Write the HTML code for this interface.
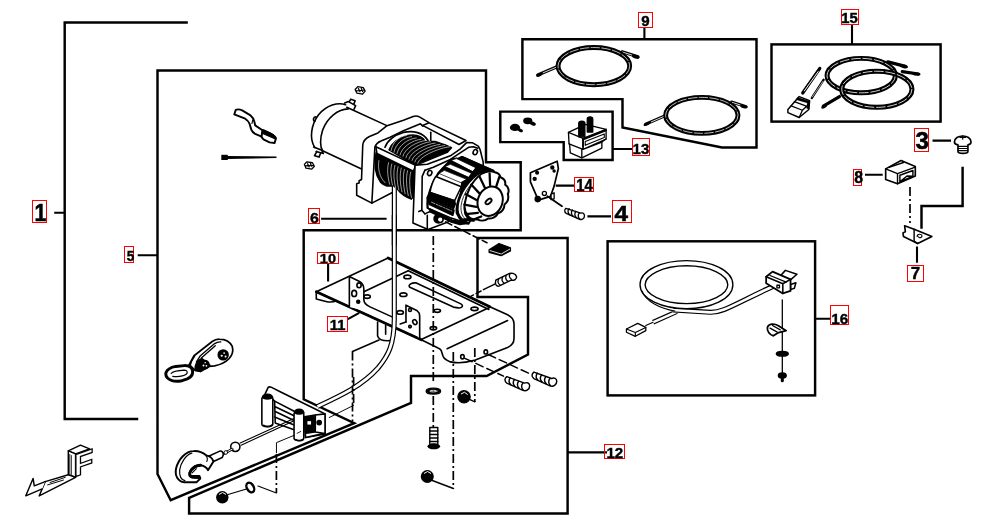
<!DOCTYPE html>
<html><head><meta charset="utf-8"><title>Winch parts diagram</title>
<style>
html,body{margin:0;padding:0;background:#fff}
svg{display:block}
.f{fill:none;stroke:#000;stroke-width:2.45;stroke-linejoin:miter;stroke-linecap:square}
.t{fill:none;stroke:#000;stroke-width:2.1;stroke-linecap:butt}
.l{fill:none;stroke:#000;stroke-linejoin:round;stroke-linecap:round}
.w{fill:#fff;stroke:#000;stroke-linejoin:round;stroke-linecap:round}
.k{fill:#000;stroke:#000;stroke-width:1;stroke-linejoin:round}
.d{fill:none;stroke:#000;stroke-width:1.7;stroke-dasharray:9 3 2 3}
.g{fill:none;stroke:#000;stroke-linejoin:round;stroke-linecap:round}
.rb{fill:none;stroke:#f00;stroke-width:1}
text{font-family:"Liberation Sans",sans-serif;font-weight:bold;fill:#000;text-anchor:middle}
.s{font-size:15px}
.b{font-size:23px}
</style></head>
<body>
<svg width="993" height="527" viewBox="0 0 993 527">
<rect width="993" height="527" fill="#fff"/>
<!-- FRAMES -->
<g id="frames">
<path class="f" d="M186.6,22.5H64.7V419H137"/>
<path class="f" d="M170.7,500.2L157.5,474V70.5H486V162.2H520.7V230.2H303.7V399.3L354.2,423.2Z"/>
<path class="f" d="M189.1,497.8L411,403V376H486.6L528,354.5V297H477.5V238H567.6V513.5H189.1Z"/>
<path class="f" d="M522.4,99.1V39.3H756.5V147.5H722L622.5,127.5V99.1Z"/>
<path class="f" d="M500.3,111.6H612.6V160H563.7V142.1H500.3Z"/>
<rect class="f" x="771.5" y="44.4" width="169.1" height="77.2"/>
<rect class="f" x="607.6" y="241.3" width="207.5" height="154.1"/>
<path class="f" d="M962.6,168V205.9H921.5V227.5"/>
</g>
<!-- LEADERS -->
<g id="leaders">
<path class="t" d="M54.2,212.8H64M137.7,255.3H157.5M644.4,27.6V39.2M852,24.3V44.4M612.7,149H632.2M555.7,185.6H574.1M587.4,216.4H611M932.5,140.6H951M865,174.8H882.7M917,246.4V262.8M815,318.8H830.5M567.5,452.4H607M328.1,264V281.5M347.9,319.2L359.2,312.8M321.1,218.8H386.6"/>
</g>
<!-- LABELS -->
<g id="labels">
<rect class="rb" x="32.5" y="200.5" width="14.0" height="22.0"/>
<rect class="rb" x="124.5" y="246.5" width="9.0" height="16.0"/>
<rect class="rb" x="308.5" y="208.5" width="11.0" height="15.0"/>
<rect class="rb" x="638.5" y="12.5" width="14.0" height="15.0"/>
<rect class="rb" x="841.5" y="9.5" width="17.0" height="15.0"/>
<rect class="rb" x="632.5" y="138.5" width="17.0" height="17.0"/>
<rect class="rb" x="574.5" y="177.5" width="19.0" height="14.0"/>
<rect class="rb" x="612.5" y="200.5" width="19.0" height="22.0"/>
<rect class="rb" x="914.5" y="128.5" width="14.0" height="23.0"/>
<rect class="rb" x="853.5" y="169.5" width="8.0" height="16.0"/>
<rect class="rb" x="907.5" y="265.5" width="16.0" height="16.0"/>
<rect class="rb" x="830.5" y="305.5" width="18.0" height="19.0"/>
<rect class="rb" x="604.5" y="444.5" width="20.0" height="14.0"/>
<rect class="rb" x="317.5" y="252.5" width="21.0" height="11.0"/>
<rect class="rb" x="327.5" y="316.5" width="20.0" height="15.0"/>
<g style="filter:grayscale(1)">
<text transform="translate(34.56,221.40) scale(0.904,1)" style="font-size:23.55px;text-anchor:start;stroke:#000;stroke-width:0.55px">1</text>
<text transform="translate(126.69,260.95) scale(0.880,1)" style="font-size:15.47px;text-anchor:start;stroke:#000;stroke-width:0.4px">5</text>
<text transform="translate(310.04,223.45) scale(1.060,1)" style="font-size:15.11px;text-anchor:start;stroke:#000;stroke-width:0.4px">6</text>
<text transform="translate(641.16,25.96) scale(1.060,1)" style="font-size:14.27px;text-anchor:start;stroke:#000;stroke-width:0.4px">9</text>
<text transform="translate(841.26,22.65) scale(0.980,1)" style="font-size:15.19px;text-anchor:start;stroke:#000;stroke-width:0.4px">15</text>
<text transform="translate(632.55,153.93) scale(0.985,1)" style="font-size:15.23px;text-anchor:start;stroke:#000;stroke-width:0.4px">13</text>
<text transform="translate(576.26,191.10) scale(0.946,1)" style="font-size:15.70px;text-anchor:start;stroke:#000;stroke-width:0.4px">14</text>
<text transform="translate(614.51,220.80) scale(1.060,1)" style="font-size:22.97px;text-anchor:start;stroke:#000;stroke-width:0.55px">4</text>
<text transform="translate(915.44,149.45) scale(1.050,1)" style="font-size:22.99px;text-anchor:start;stroke:#000;stroke-width:0.55px">3</text>
<text transform="translate(854.29,182.64) scale(1.000,1)" style="font-size:15.82px;text-anchor:start;stroke:#000;stroke-width:0.4px">8</text>
<text transform="translate(910.80,279.00) scale(1.060,1)" style="font-size:15.99px;text-anchor:start;stroke:#000;stroke-width:0.4px">7</text>
<text transform="translate(831.34,324.15) scale(1.012,1)" style="font-size:15.11px;text-anchor:start;stroke:#000;stroke-width:0.4px">16</text>
<text transform="translate(606.45,458.30) scale(0.983,1)" style="font-size:15.33px;text-anchor:start;stroke:#000;stroke-width:0.4px">12</text>
<text transform="translate(319.82,262.76) scale(1.060,1)" style="font-size:13.70px;text-anchor:start;stroke:#000;stroke-width:0.4px">10</text>
<text transform="translate(329.87,329.80) scale(0.970,1)" style="font-size:15.26px;text-anchor:start;stroke:#000;stroke-width:0.4px">11</text>
</g>
</g>

<!-- PARTS -->
<!-- WINCH -->
<g id="winch">
<!-- motor : 6.2x tile origin (300,85) -->
<g transform="translate(300,85) scale(0.16129)" stroke-width="10" class="g">
<path d="M283,122C235,105 165,125 115,185C70,245 55,330 92,388"/>
<path d="M300,148C235,150 170,200 140,280C122,335 125,385 140,408"/>
<path d="M290,138L545,255M140,408L395,527"/>
<path d="M277,112L300,103L345,128L335,150M305,105L315,88L342,97L333,120"/>
<path d="M85,385L135,405L145,425L100,412M105,412L90,438L118,447L128,422"/>
<path d="M100,198C82,195 78,222 92,225"/>
<g stroke-width="8"><path d="M342,28L358,10L392,16L404,38L388,56L352,50ZM362,22L372,42M380,22L388,40M350,36L395,32"/>
<path d="M27,492L43,476L77,482L89,504L73,522L37,516ZM47,488L57,508M65,488L73,506M35,502L80,498"/></g>
</g>
<!-- left mount : 8.233x tile A origin (350,105) -->
<g transform="translate(350,105) scale(0.12146)" stroke-width="13" class="g">
<path fill="#fff" stroke="none" d="M105,330C108,300 130,275 160,260L230,230L305,170L440,125L520,95C540,88 560,92 575,100L650,145L660,300L345,723L180,808L55,743L55,648L75,643L75,623L95,613Z"/>
<path d="M345,723L180,808L55,743L55,648L75,643L75,623L95,613L105,330C108,300 130,275 160,260L230,230L305,170L440,125L520,95C540,88 560,92 575,100L650,145"/>
<path d="M180,808L195,527L205,345C215,320 235,305 255,297L330,265L440,212L580,155L600,175"/>
<path d="M665,225V300"/>
<!-- drum upper -->
<path fill="#000" d="M322,368C342,315 400,270 465,253C530,240 590,252 618,298L700,300L790,332L835,352L800,390L540,497Z"/>
<path stroke-width="14" d="M288,348C308,292 370,245 440,226C520,208 602,225 642,292"/>
<path stroke="#fff" stroke-width="5" fill="none" d="M338,376C350,314 393,258 468,250M362,388C374,326 432,268 507,260M387,399C399,337 471,279 546,271M412,411C424,349 510,290 585,282M436,422C448,360 549,300 624,292M460,434C472,372 588,310 663,302M485,446C497,384 627,321 702,313M510,457C522,395 666,332 741,324M534,469C546,407 705,342 780,334M558,480C570,418 744,352 819,344"/>
<!-- drum lower (tile B = +452.8 in y) -->
<g transform="translate(0,452.8)">
<path fill="#000" d="M215,-60C200,20 200,110 250,180C280,210 320,218 345,212L390,240C420,280 470,310 505,322L522,300L522,60L290,-60Z"/>
<path stroke="#fff" stroke-width="5" fill="none" d="M238,5C228,70 240,140 290,188M318,22C302,82 312,140.0 326,200M344,33C328,93 338,155.5 352,216M370,44C354,104 362,171.0 376,231M396,55C380,115 388,186.5 402,246M422,66C406,126 414,202.0 428,262M448,77C432,137 440,217.5 454,278M474,88C458,148 466,233.0 480,293M500,99C484,159 492,248.5 506,308"/>
<!-- cable down -->
<path fill="#fff" stroke="none" d="M349,212V700H381V238"/>
<path stroke-width="10" d="M349,212V700M381,238V700"/>
</g>
<!-- front tie bar -->
<path fill="#fff" d="M213,343L540,497L522,545L222,400Z"/>
<!-- rear tie bar -->
<path fill="#fff" d="M597,168L652,147L955,292L898,325Z"/>
</g>

<!-- right mount + gear housing : tile C origin (420,140) 8.233x ; tile D = +288 in y -->
<g transform="translate(420,140) scale(0.12146)" stroke-width="13" class="g">
<path fill="#fff" d="M-36,207L60,200L250,130L330,75L385,20L430,22L480,50L495,80L520,180L525,400L230,675L66,737L-58,683L-41,214Z"/>
<path d="M40,250L110,225L250,160L340,100L400,60L440,55L475,68"/>
<path d="M40,250L18,300L15,578L40,608"/>
<ellipse cx="80" cy="272" rx="17" ry="22" transform="rotate(25 80 272)"/>
<ellipse cx="455" cy="100" rx="17" ry="22" transform="rotate(25 455 100)"/>
<!-- foot -->
<path d="M15,578L-10,588M40,608L105,578M60,620V728"/>
<!-- housing body white -->
<path fill="#fff" d="M180,240L255,160L320,150L345,138L600,250L640,300L400,690L250,640L60,560C50,480 90,340 180,240Z"/>
<!-- top dark rib -->
<path fill="#000" d="M318,152L347,138L605,250L640,300L600,290L560,268L330,170Z"/>
<!-- ribs -->
<path fill="#000" d="M255,160L300,150L490,238L470,275L440,275L250,195L205,212L400,300L380,330L350,350L200,247L160,268L135,300L150,270Z"/>
<path fill="#fff" stroke-width="6" d="M258,166L300,153L484,240L454,268Z"/>
<path fill="#fff" stroke-width="6" d="M208,218L250,200L438,280L404,306Z"/>
<path fill="#fff" stroke-width="6" d="M160,274L200,250L390,326L354,356Z"/>
<!-- white panel -->
<path fill="#fff" d="M130,300L340,385L285,500L82,432C90,385 105,340 130,300Z"/>
<!-- lower dark bands (tile D coords +288) -->
<path fill="#000" d="M82,432L285,500L290,528L275,565L60,475Z"/>
<path fill="#000" d="M66,488L280,578L270,620L75,530Z"/>
<path stroke="#fff" stroke-width="5" stroke-dasharray="30 12 14 10" d="M95,512L262,585"/>
<path fill="#000" d="M85,570L265,660L400,680L330,695L250,672L80,590Z"/>
<path d="M60,475L66,560L85,575"/>
<!-- ring arcs -->
<path fill="#000" d="M345,350L450,290L520,255L560,250L640,300L560,300C480,320 400,400 360,490C335,560 335,620 360,660L400,690L340,690L318,600L325,520Z"/>
<!-- bolt lower-left -->
<circle cx="150" cy="648" r="34" fill="#000"/>
<circle cx="166" cy="655" r="24" fill="#fff"/>
</g>
<!-- knob : tile K origin (450,160) 7.525x -->
<g transform="translate(450,160) scale(0.13289)" stroke-width="11" class="g">
<path fill="#000" d="M200,55L270,80L335,92L235,105L180,460L120,455L70,440L48,400C38,330 88,190 200,55Z"/>
<path fill="#fff" stroke-width="9" d="M225,100C150,145 75,250 62,340C55,390 72,428 95,445L135,440C112,420 102,385 109,340C122,255 180,165 255,118Z"/>
<path stroke-width="6" d="M240,108C165,153 95,255 84,340C78,385 90,420 113,442"/>
<path fill="#fff" stroke-width="15" d="M235,105C270,85 310,80 335,92C360,95 375,110 380,130C405,140 420,160 415,185C440,200 448,235 435,255C445,290 430,320 410,335C410,365 390,395 362,400C345,430 312,445 287,440C262,460 228,460 207,447C180,450 150,440 135,420C115,395 105,360 112,325C120,260 160,160 235,105Z"/>
<path stroke-width="17" d="M298,100L302,198M372,125L345,208M222,125L265,215M160,185L225,255M120,258L203,302M108,335L198,352M118,408L210,398M172,450L235,425"/>
<ellipse cx="302" cy="310" rx="92" ry="113" transform="rotate(22 302 310)" fill="#fff" stroke-width="15"/>
<ellipse cx="290" cy="312" rx="27" ry="15" transform="rotate(-40 290 312)" stroke-width="14"/>
</g>
</g>

<!-- PLATE 10/11 : tile P1 origin (305,245) 6.2x -->
<g id="plate" transform="translate(305,245) scale(0.16129)" stroke-width="10" class="g">
<path fill="#fff" d="M70,290L515,80L1146,383L1256,433C1290,450 1296,470 1296,490L1296,578C1296,610 1280,625 1256,635L1056,713C1000,730 940,735 896,723C870,712 860,700 856,690L845,655C840,645 835,642 825,638L721,588L70,290Z"/>
<path stroke-width="17" d="M70,290L721,588M515,80L1146,383"/>
<path d="M70,290V335L130,350C150,355 180,352 195,345"/>
<path d="M721,586L1146,386M881,643L1256,468M640,160L1140,400M365,290L640,160"/>
<!-- left flange -->
<path fill="#fff" d="M275,385V195L335,225C355,235 365,255 365,275L365,340C365,360 385,375 400,382L560,455"/>
<ellipse cx="335" cy="250" rx="13" ry="15"/><ellipse cx="305" cy="300" rx="15" ry="19"/><circle cx="330" cy="352" r="9" fill="#000"/>
<!-- slot -->
<path d="M690,235L966,365C985,375 975,392 950,390L920,385L650,262C635,250 660,232 690,235Z"/>
<!-- holes -->
<ellipse cx="635" cy="198" rx="22" ry="11"/><ellipse cx="610" cy="308" rx="22" ry="11"/><ellipse cx="385" cy="320" rx="20" ry="11"/>
<ellipse cx="590" cy="418" rx="20" ry="11"/><ellipse cx="820" cy="408" rx="20" ry="10"/><ellipse cx="1051" cy="396" rx="22" ry="11"/>
<ellipse cx="796" cy="516" rx="20" ry="10"/>
<ellipse cx="976" cy="693" rx="11" ry="13" stroke-width="10"/><ellipse cx="1121" cy="663" rx="11" ry="13" stroke-width="10"/>
<!-- right flange -->
<path fill="#fff" d="M626,478V373L696,408C706,415 711,425 711,440L711,582"/>
<path d="M626,478L590,490"/>
<circle cx="651" cy="403" r="9"/><ellipse cx="681" cy="478" rx="12" ry="16" transform="rotate(-30 681 478)"/><circle cx="651" cy="506" r="8"/>
<!-- U bracket under plate -->
<path d="M450,478V563C455,585 480,595 525,593M500,498V553"/>
</g>

<!-- CABLE 6 -->
<g id="cable" fill="none" stroke-linecap="butt">
<path stroke="#000" stroke-width="5.1" d="M394.3,215V318C394.3,345 388,356 378,368C362,386 340,396 317.5,406.5"/>
<path stroke="#fff" stroke-width="2.7" d="M394.3,215V318C394.3,345 388,356 378,368C362,386 340,396 317.5,406.5"/>
</g>
<!-- HARDWARE in frame 12 -->
<g id="hw12">
<!-- tile H1 origin (440,225) 7.03x -->
<g transform="translate(440,225) scale(0.14228)" stroke-width="9" class="g">
<path fill="#000" d="M345,175L415,130L495,160L495,182L430,216L345,192Z"/>
<path stroke="#fff" stroke-width="6" d="M352,180L430,204L490,170"/>
<path stroke-width="10" d="M305,455L385,415"/>
<path fill="#fff" stroke-width="10" d="M392,388L478,345C500,332 530,340 538,362C542,380 520,392 500,388L418,428C400,436 382,420 392,388Z"/>
<path stroke-width="9" d="M412,382C404,395 410,412 422,422M440,368C432,381 438,398 450,408M466,355C458,368 464,385 476,395M492,342C484,355 490,372 502,382"/>
<path stroke-width="11" stroke-dasharray="48 24" d="M40,-22L330,125"/>
<path stroke-width="10" stroke-dasharray="40 20" d="M200,510L300,458"/>
</g>
<!-- tile H2 origin (410,350) 6.2x -->
<g transform="translate(410,350) scale(0.16129)" stroke-width="8" class="g">
<ellipse cx="145" cy="255" rx="45" ry="18" fill="#000"/><ellipse cx="145" cy="255" rx="22" ry="5" stroke="#fff" stroke-width="5"/>
<circle cx="335" cy="290" r="38" fill="#000"/><path stroke="#fff" stroke-width="6" d="M318,272L338,262L356,275"/>
<path d="M402,322L365,305"/>
<g id="stud">
<path fill="#fff" stroke-width="9" d="M600,165C585,175 585,195 600,205L700,250C720,258 742,245 742,222C742,205 725,198 710,205Z"/>
<path stroke-width="9" d="M622,172C610,185 612,205 625,215M648,183C636,196 638,216 651,226M674,194C662,207 664,227 677,237M700,205C688,218 690,238 703,248"/>
</g>
<use href="#stud" x="168" y="-28"/>
<path stroke-width="9" stroke-dasharray="50 25" d="M340,52L580,162M485,28L745,148"/>
</g>
<!-- vertical bolt + nut (source coords) -->
<path class="w" stroke-width="1.4" d="M429.8,427.5h8v17h-8z"/>
<path class="l" stroke-width="1.3" d="M429.8,431h8M429.8,434.5h8M429.8,438h8M429.8,441.5h8"/>
<ellipse cx="433.8" cy="446.3" rx="6.3" ry="3" fill="#000"/>
<circle cx="427.3" cy="476.5" r="6.5" fill="#000"/><path d="M424,473.5l3.5,-2l3.5,2" fill="none" stroke="#fff" stroke-width="1"/>
<path class="l" stroke-width="1.4" d="M431,480L453.4,488.5"/>
<!-- dash-dot centre lines -->
<path class="d" d="M433.3,236V384M433.3,396V427M453.3,352V488.5M474.8,348V402"/>
<path class="d" d="M352.5,351.5V421"/>
<path class="l" stroke-width="1.5" d="M352.5,351.5L379,340"/>
</g>

<!-- FAIRLEAD : tile F1 origin (240,375) 8.233x -->
<g id="fairlead" transform="translate(240,375) scale(0.12146)" stroke-width="13" class="g">
<!-- thin rope to hook (behind rollers) -->
<path stroke-width="9" d="M445,358L1.6,559.8M445,377L9,578.8"/>
<!-- top plate -->
<path fill="#fff" d="M205,160L232,102C240,95 250,97 260,102L335,140L640,290L700,320V485L540,515L530,345L450,300L285,215L270,200Z"/>
<path d="M285,215L290,395M290,262L445,335M290,300L440,372M285,345L440,410M290,395L445,450"/>
<!-- left roller -->
<path fill="#fff" d="M180,195C180,175 270,175 270,195V405C270,430 180,430 180,405Z"/>
<path fill="#000" d="M185,185C190,150 260,150 268,185C250,200 200,200 185,185Z"/>
<path stroke-width="14" d="M195,415C210,428 245,428 262,412"/>
<!-- side plate -->
<path fill="#fff" d="M530,345L620,330L700,320V482L660,487L540,515Z"/>
<path fill="#000" d="M540,350L610,340L615,470L545,480Z"/>
<rect x="555" y="380" width="30" height="28" fill="#fff" stroke="none"/>
<circle cx="652" cy="392" r="17" fill="#000"/>
<path d="M620,330V470L700,482"/>
<!-- right roller -->
<path fill="#fff" d="M445,320C445,298 525,298 525,320V520C525,545 445,545 445,520Z"/>
<path fill="#000" d="M450,310C455,272 518,272 525,310C505,325 470,325 450,310Z"/>
<path stroke-width="14" d="M460,532C475,545 505,545 520,530"/>
<path stroke-width="7" d="M470,480L500,465"/>
<!-- dash lines -->
<path stroke-width="8" d="M735,350L935,250"/>
<path stroke-width="8" d="M445,497L300,557V640"/>
</g>
<path class="d" d="M353.6,377V405M276.4,454V493"/>
<path class="l" stroke-width="1.2" d="M276.4,493L258,486"/>

<!-- HOOK : tile HK origin (160,425) 8.233x -->
<g id="hook" transform="translate(160,425) scale(0.12146)" stroke-width="13" class="g">
<circle cx="620" cy="180" r="38" fill="#fff"/>
<path stroke-width="22" d="M515,242L595,198"/><path stroke="#fff" stroke-width="8" d="M515,242L595,198"/><circle cx="542" cy="226" r="15" fill="#fff" stroke-width="8"/>
<path fill="#fff" d="M405,255L492,215C512,212 525,230 520,250L512,268L440,300Z"/>
<path fill="#fff" stroke-width="16" d="M275,215C215,215 150,280 132,360C120,420 150,465 200,472L300,472L332,440L325,420L255,418C235,400 245,365 285,340L335,330C360,335 385,350 395,372L440,300C430,270 410,255 380,250C350,225 310,212 275,215Z"/>
<path stroke-width="10" d="M262,232C215,245 170,310 162,370C158,420 175,450 205,458"/>
<path stroke-width="24" d="M335,332C300,330 255,360 245,395C240,415 250,428 270,430L320,432"/>
<path stroke-width="9" d="M300,360L265,395M380,255C392,268 392,290 385,300"/>
</g>
<!-- nut + washer bottom-left -->
<circle cx="222.3" cy="497.3" r="6.2" fill="#000"/><path d="M219,494.5l3.5,-2l3.5,2" fill="none" stroke="#fff" stroke-width="1"/>
<ellipse cx="250.3" cy="487.5" rx="3.4" ry="5.2" transform="rotate(-30 250.3 487.5)" fill="#fff" stroke="#000" stroke-width="2.4"/>
<path class="l" stroke-width="1.3" d="M228,494.5L246.5,489"/>
<!-- SNATCH BLOCK : tile SB origin (160,330) 8.233x -->
<g id="snatch" transform="translate(160,330) scale(0.12146)" stroke-width="14" class="g">
<path fill="#fff" d="M240,285L280,212L430,95C450,80 470,74 490,75C530,76 575,95 595,135C605,170 595,205 570,235C545,262 500,285 450,295L405,300L335,340L290,332Z"/>
<path stroke-width="11" d="M300,262L330,215L450,112C465,102 480,97 500,98M340,230L455,130"/>
<path fill="#000" d="M290,330C285,290 305,250 345,235L410,290L335,340Z"/>
<circle cx="520" cy="205" r="40" fill="#000"/><circle cx="508" cy="212" r="9" fill="#fff" stroke="none"/><circle cx="540" cy="218" r="8" fill="#fff" stroke="none"/><circle cx="528" cy="190" r="7" fill="#fff" stroke="none"/>
<circle cx="368" cy="285" r="34" fill="#000"/><circle cx="358" cy="292" r="8" fill="#fff" stroke="none"/><circle cx="382" cy="295" r="7" fill="#fff" stroke="none"/><circle cx="372" cy="270" r="6" fill="#fff" stroke="none"/>
<path fill="#fff" stroke-width="24" d="M50,350C60,322 90,308 130,300L200,293C235,292 262,305 268,335C272,365 255,390 225,402L170,420C130,425 85,418 62,395C48,380 45,365 50,350Z"/>
<path stroke-width="10" d="M92,358C100,345 150,332 200,330C225,332 232,350 215,365C195,380 140,385 105,382"/>
<path stroke-width="13" d="M245,300C252,270 265,240 285,215"/>
</g>
<!-- STRAP : tile ST origin (210,95) 8.233x -->
<g id="strap" transform="translate(210,95) scale(0.12146)" stroke-width="16" class="g">
<path fill="#fff" d="M200,160L212,122C230,115 250,120 265,127L330,165C350,182 362,200 366,222L372,250L432,290L500,320C525,332 540,345 542,360L532,395L490,390L440,365L420,340L372,320C355,310 345,298 340,285L325,235C318,218 305,205 290,195Z"/>
<path d="M432,290L425,338"/>
<path fill="#000" d="M440,290L500,318C525,332 540,345 540,358L430,312Z"/>
<path stroke-width="9" d="M352,205L345,235"/>
</g>
<!-- CABLE TIE -->
<path d="M221.3,154.8h6.5v5.2h-6.5z" fill="#000"/>
<path d="M227,156L276.5,156.6L276.5,158L227,159Z" fill="#000"/>
<!-- F ARROW : tile FA origin (10,430) 8.233x -->
<g id="farrow" transform="translate(10,430) scale(0.12146)" stroke-width="12" class="g">
<path fill="#fff" d="M480,172L580,125L655,155L540,197Z"/>
<path fill="#fff" d="M480,172L540,197L540,388L480,368Z"/>
<path stroke-width="7" d="M492,200V360M505,210V368"/>
<path fill="#fff" d="M480,368L290,425L240,543L540,390Z"/>
<path fill="#fff" d="M290,425L200,460L190,399L130,542L265,485"/>
<path stroke-width="8" d="M330,432L455,390M310,452L440,412"/>
</g>
<text x="0" y="0" transform="translate(73.8,477.3) skewY(-19)" style="font-size:32px;fill:#fff;stroke:#000;stroke-width:1.3px;text-anchor:start;filter:grayscale(1)">F</text>

<!-- CABLES in frame 9 : tile C1 origin (525,40) 8.233x -->
<g id="cab9a" transform="translate(525,40) scale(0.12146)" class="g">
<path stroke-width="26" d="M268,218L105,288M800,97L930,138"/>
<path stroke="#fff" stroke-width="7" d="M262,222L150,270M805,100L880,124"/>
<ellipse cx="115" cy="288" rx="24" ry="14" transform="rotate(-22 115 288)" fill="#000" stroke="none"/>
<ellipse cx="912" cy="138" rx="32" ry="15" transform="rotate(15 912 138)" fill="#000" stroke="none"/>
<ellipse cx="567" cy="215" rx="295" ry="153" stroke-width="40"/>
<ellipse cx="567" cy="215" rx="295" ry="153" stroke="#fff" stroke-width="6" stroke-dasharray="70 18"/>
</g>
<g id="cab9b" transform="translate(635,85) scale(0.12146)" class="g">
<path stroke-width="24" d="M250,252L88,322M795,140L915,178"/>
<path stroke="#fff" stroke-width="7" d="M245,256L135,303M800,143L865,164"/>
<ellipse cx="95" cy="322" rx="26" ry="13" transform="rotate(-20 95 322)" fill="#000" stroke="none"/>
<ellipse cx="897" cy="178" rx="30" ry="14" transform="rotate(12 897 178)" fill="#000" stroke="none"/>
<ellipse cx="550" cy="250" rx="298" ry="148" stroke-width="40"/>
<ellipse cx="550" cy="250" rx="298" ry="148" stroke="#fff" stroke-width="6" stroke-dasharray="70 18"/>
</g>
<!-- FRAME 13 contents : tile S13 origin (498,105) 8.233x -->
<g id="sol13" transform="translate(498,105) scale(0.12146)" stroke-width="11" class="g">
<ellipse cx="140" cy="185" rx="42" ry="30" fill="#000" stroke="none"/><ellipse cx="183" cy="208" rx="24" ry="14" transform="rotate(25 183 208)" fill="#000" stroke="none"/>
<ellipse cx="245" cy="130" rx="38" ry="28" fill="#000" stroke="none"/><ellipse cx="285" cy="152" rx="28" ry="15" transform="rotate(22 285 152)" fill="#000" stroke="none"/>
<path fill="#fff" d="M580,225L720,160L890,200V280L855,305V355L690,435L595,395L590,325L585,320Z"/>
<path d="M580,225L700,275L890,200M700,275V365M585,320L700,365L890,280M690,365V435M700,365L855,305"/>
<path stroke-width="16" d="M702,282L888,208"/>
<path stroke-width="9" d="M718,300L875,238V268L718,332Z"/>
<path fill="#000" d="M665,150C665,128 715,128 715,150V262H665Z"/>
<path fill="#000" d="M735,115C735,92 780,92 780,115V222H735Z"/>
<path stroke-width="14" d="M700,275V345"/>
</g>
<!-- BRACKET 14 + SPRING 4 : tile P14 origin (528,160) 8.233x -->
<g id="br14" transform="translate(528,160) scale(0.12146)" stroke-width="14" class="g">
<path fill="#fff" d="M20,105L240,10L250,70L215,215L185,300L85,330L20,180Z"/>
<circle cx="75" cy="105" r="10" fill="#000"/><circle cx="55" cy="155" r="11" fill="#000"/><circle cx="200" cy="62" r="11" fill="#000"/><circle cx="215" cy="90" r="7" fill="#000"/>
<circle cx="135" cy="275" r="17" stroke-width="11"/>
<path fill="#fff" stroke-width="11" d="M190,282L215,270V320L190,326Z"/>
<circle cx="80" cy="322" r="20" fill="#000"/>
<path stroke-width="15" d="M160,298L280,380"/>
<path fill="#fff" stroke-width="11" d="M312,398C298,410 300,432 315,440L425,488C448,495 465,480 465,458C465,440 450,432 435,438Z"/>
<path stroke-width="11" d="M338,400C324,415 328,440 345,452M366,412C352,427 356,452 373,464M394,424C380,439 384,464 401,476M422,436C408,451 412,476 429,488"/>
</g>
<!-- FRAME 15 contents : tile C15 origin (775,45) 6.206x -->
<g id="cab15" transform="translate(775,45) scale(0.16113)" class="g">
<path stroke-width="20" d="M700,105L810,133M400,320L300,380"/>
<ellipse cx="800" cy="133" rx="26" ry="11" transform="rotate(12 800 133)" fill="#000" stroke="none"/>
<ellipse cx="305" cy="382" rx="20" ry="10" transform="rotate(-28 305 382)" fill="#000" stroke="none"/>
<ellipse cx="535" cy="190" rx="212" ry="107" stroke-width="31"/>
<ellipse cx="535" cy="190" rx="212" ry="107" stroke="#fff" stroke-width="5" stroke-dasharray="55 16"/>
<path stroke-width="20" d="M790,165L890,180"/>
<ellipse cx="878" cy="180" rx="26" ry="10" transform="rotate(5 878 180)" fill="#000" stroke="none"/>
<ellipse cx="632" cy="275" rx="218" ry="112" stroke-width="31"/>
<ellipse cx="632" cy="275" rx="218" ry="112" stroke="#fff" stroke-width="5" stroke-dasharray="55 16"/>
<!-- straps -->
<path stroke-width="20" d="M278,145L172,298"/><path stroke="#fff" stroke-width="6" d="M268,165L182,285"/>
<path stroke-width="14" d="M302,215L228,330"/><path stroke="#fff" stroke-width="4" d="M298,225L232,322"/>
<!-- buckle -->
<path fill="#fff" stroke-width="9" d="M80,400L150,320L215,345L210,400L150,450L80,420Z"/>
<path fill="#000" d="M140,325L215,348L212,400L195,392L200,360L130,340Z"/>
<path stroke-width="8" d="M100,378L170,405M120,352L190,378M150,450L170,405L205,372"/>
</g>
<!-- SCREW 3 / RELAY 8 / BRACKET 7 : tile R origin (875,125) 4.218x -->
<g id="r378" transform="translate(875,125) scale(0.23708)" stroke-width="6" class="g">
<path fill="#fff" stroke-width="7" d="M335,72C335,38 405,38 405,72C405,82 392,84 392,84V112C392,122 350,122 350,112V84C350,84 335,82 335,72Z"/>
<path stroke-width="5" d="M352,90H390M352,99H390M352,108H390M358,52L382,52M370,46V60"/>
<path fill="#fff" stroke-width="7" d="M45,185L110,150L170,175V215L95,248L45,230Z"/>
<path stroke-width="6" d="M45,185L95,205L170,178M95,205V248M105,212L160,192V216L105,240ZM105,240L135,215L160,216M62,178L120,158"/>
<path fill="#fff" stroke-width="7" d="M125,425L165,440L240,470L180,500L120,470L118,455L128,450Z"/>
<path stroke-width="6" d="M165,440V490M180,500L165,490"/>
<path stroke-width="5" d="M178,470C178,458 198,458 198,468C198,476 186,478 184,472"/>
</g>
<path class="d" d="M910,187V223"/>

<!-- HARNESS 16 : tile H16 origin (620,250) 6.2x -->
<g id="h16" transform="translate(620,250) scale(0.16129)" class="g">
<!-- lead to connector -->
<path stroke-width="30" stroke-linecap="butt" d="M352,382L205,448"/><path stroke="#fff" stroke-width="15" stroke-linecap="butt" d="M358,380L200,450"/>
<path stroke-width="7" d="M205,448L160,468"/>
<path fill="#fff" stroke-width="8" d="M40,490L110,455L160,480L160,500L95,535L40,510Z"/>
<path stroke-width="7" d="M40,490L95,512L160,480M95,512V535"/>
<!-- lead to switch -->
<path stroke-width="32" stroke-linecap="butt" d="M330,372L560,386C640,388 700,340 955,222"/>
<path stroke="#fff" stroke-width="17" stroke-linecap="butt" d="M320,372L560,386C640,388 700,340 965,218"/>
<!-- loop -->
<ellipse cx="412" cy="215" rx="272" ry="133" stroke-width="40"/>
<ellipse cx="412" cy="215" rx="272" ry="133" stroke="#fff" stroke-width="23"/>
<path stroke-width="7" d="M134,250C160,320 250,365 340,378"/>
</g>
<!-- SWITCH etc : tile SW origin (720,255) 3.9x -->
<g id="sw16" transform="translate(720,255) scale(0.25641)" stroke-width="6" class="g">
<path fill="#fff" d="M235,82L255,60L300,75L275,97Z"/>
<path fill="#fff" d="M275,115L296,108L290,130L275,135Z"/>
<path fill="#fff" stroke-width="7" d="M180,85L205,65L275,95V140L245,150L180,110Z"/>
<path d="M180,85L245,112L275,95M245,112V150"/>
<path stroke-width="5" d="M195,80L258,106M222,118h10v10h-10z"/>
<path stroke-width="5" d="M243,175V465"/>
<path fill="#fff" stroke-width="7" d="M185,282C190,268 210,266 228,276L258,295L225,304L208,315C195,312 182,298 185,282Z"/>
<path stroke-width="5" d="M195,285L222,300M205,275L235,292"/>
<ellipse cx="243" cy="385" rx="23" ry="9" fill="#000"/>
<ellipse cx="243" cy="470" rx="15" ry="10" fill="#000"/><path stroke-width="12" d="M243,470V490"/>
</g>

</svg>
</body></html>
